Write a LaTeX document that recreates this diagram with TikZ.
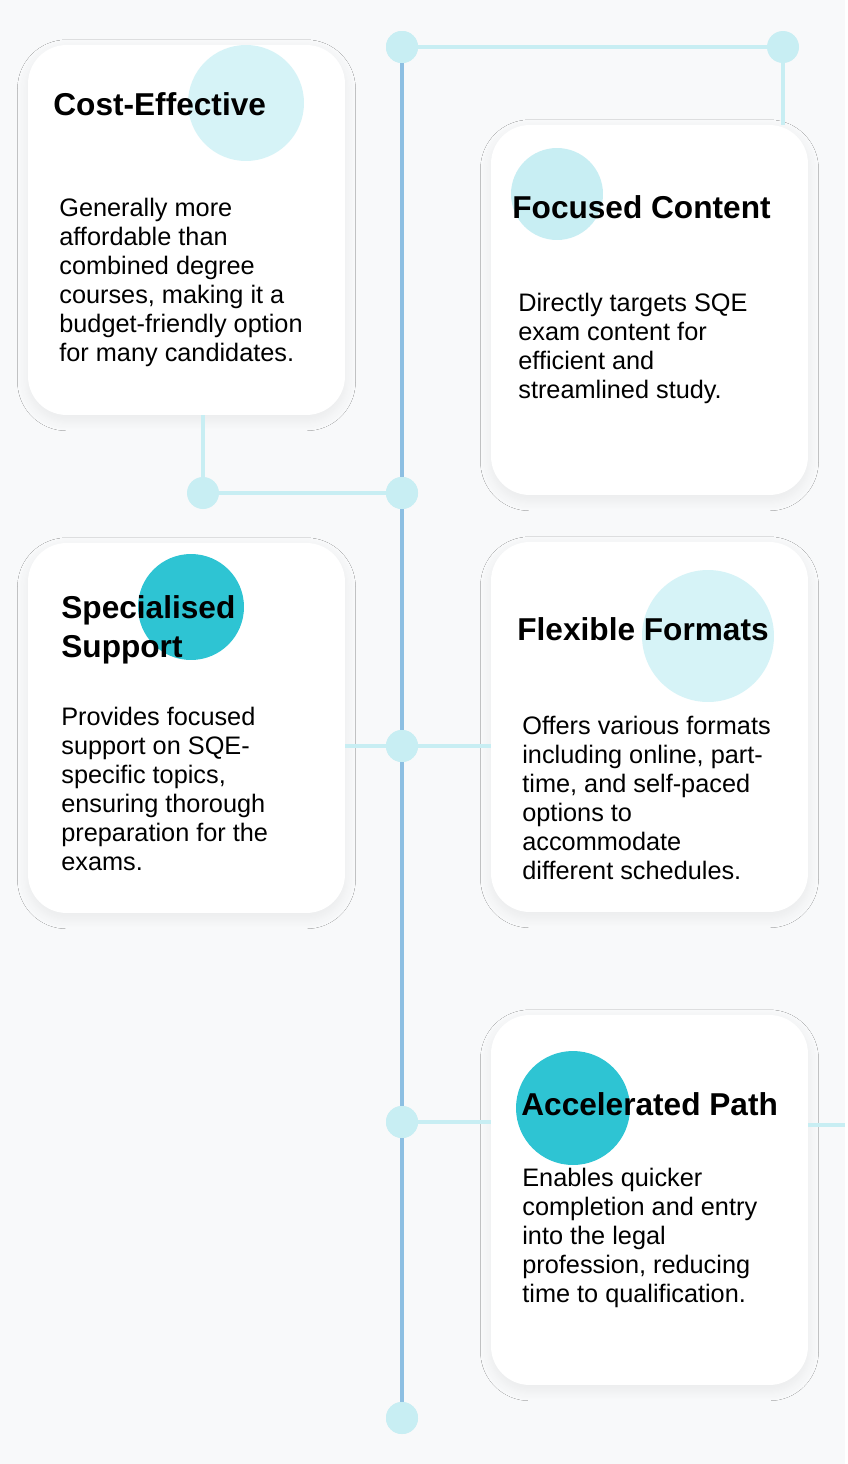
\documentclass[tikz,border=0pt]{standalone}
\usepackage{fontspec}
\setmainfont{Liberation Sans}
\usetikzlibrary{shadows.blur}
\definecolor{bgc}{HTML}{F8F9FA}
\definecolor{lineblue}{HTML}{8DBFE2}
\definecolor{paleteal}{HTML}{C8EEF3}
\definecolor{lightteal}{HTML}{D6F3F7}
\definecolor{deepteal}{HTML}{2EC4D3}
\tikzset{
  card/.style = {rectangle, rounded corners=22pt, fill=white, minimum width=6.34cm, minimum height=7.4cm, blur shadow={shadow blur steps=10, shadow blur radius=6pt, shadow xshift=0pt, shadow yshift=-3pt, shadow opacity=6}},
  dot/.style = {circle, fill=paleteal, minimum size=0.64cm, inner sep=0pt},
  blob/.style = {circle, inner sep=0pt},
  title/.style = {anchor=west, inner sep=0pt, align=left, font=\fontsize{18}{22}\selectfont\bfseries},
  body/.style = {anchor=west, inner sep=0pt, align=left, font=\fontsize{14.4}{16.5}\selectfont},
  link/.style = {draw=paleteal, line width=2.5pt},
  spine/.style = {draw=lineblue, line width=2.5pt}
}
\begin{document}
\begin{tikzpicture}[x=0.02cm, y=-0.02cm]
  \fill[bgc] (0,0) rectangle (845,1464);

  % timeline dots
  \node[dot] (top) at (402,47) {};
  \node[dot] (topr) at (783,47) {};
  \node[dot] (mid1) at (402,493) {};
  \node[dot] (mid1l) at (203,493) {};
  \node[dot] (mid2) at (402,746) {};
  \node[dot] (mid3) at (402,1122) {};
  \node[dot] (bot) at (402,1418) {};
  \coordinate (edge) at (845,1125);

  % cards
  \node[card] (cost) at (186.5,230) {};
  \node[card] (focus) at (649.5,310) {};
  \node[card] (spec) at (186.5,728) {};
  \node[card] (flex) at (649.5,727) {};
  \node[card] (accel) at (649.5,1200) {};

  % connectors
  \draw[link] (top) -- (topr);
  \draw[link] (topr) -- (focus.north -| topr);
  \draw[link] (mid1l) -- (mid1);
  \draw[link] (cost.south -| mid1l) -- (mid1l);
  \draw[link] (spec.east |- mid2) -- (flex.west |- mid2);
  \draw[link] (mid3) -- (accel.west |- mid3);
  \draw[link] (accel.east |- edge) -- (edge);
  \draw[spine] (top) -- (mid1) -- (mid2) -- (mid3) -- (bot);
  \foreach \d in {top,mid1,mid2,mid3,bot} \node[dot] at (\d) {};

  % circles behind titles
  \node[blob, fill=lightteal, minimum size=2.32cm] (c1) at (246,103) {};
  \node[blob, fill=paleteal, minimum size=1.84cm] (c2) at (557,194) {};
  \node[blob, fill=deepteal, minimum size=2.12cm] (c3) at (191,607) {};
  \node[blob, fill=lightteal, minimum size=2.64cm] (c4) at (708,636) {};
  \node[blob, fill=deepteal, minimum size=2.28cm] (c5) at (573,1108) {};

  % texts
  \node[title] (t1) at (53,104) {Cost-Effective};
  \node[body] (b1) at (59,282) {Generally more\\affordable than\\combined degree\\courses, making it a\\budget-friendly option\\for many candidates.};
  \node[title] (t2) at (512,207) {Focused Content};
  \node[body] (b2) at (518,348) {Directly targets SQE\\exam content for\\efficient and\\streamlined study.};
  \node[title] (t3) at (61,630) {Specialised\\Support};
  \node[body] (b3) at (61,789) {Provides focused\\support on SQE-\\specific topics,\\ensuring thorough\\preparation for the\\exams.};
  \node[title] (t4) at (517,629) {Flexible Formats};
  \node[body] (b4) at (522,798) {Offers various formats\\including online, part-\\time, and self-paced\\options to\\accommodate\\different schedules.};
  \node[title] (t5) at (521,1104) {Accelerated Path};
  \node[body] (b5) at (522,1238) {Enables quicker\\completion and entry\\into the legal\\profession, reducing\\time to qualification.};
\end{tikzpicture}
\end{document}
